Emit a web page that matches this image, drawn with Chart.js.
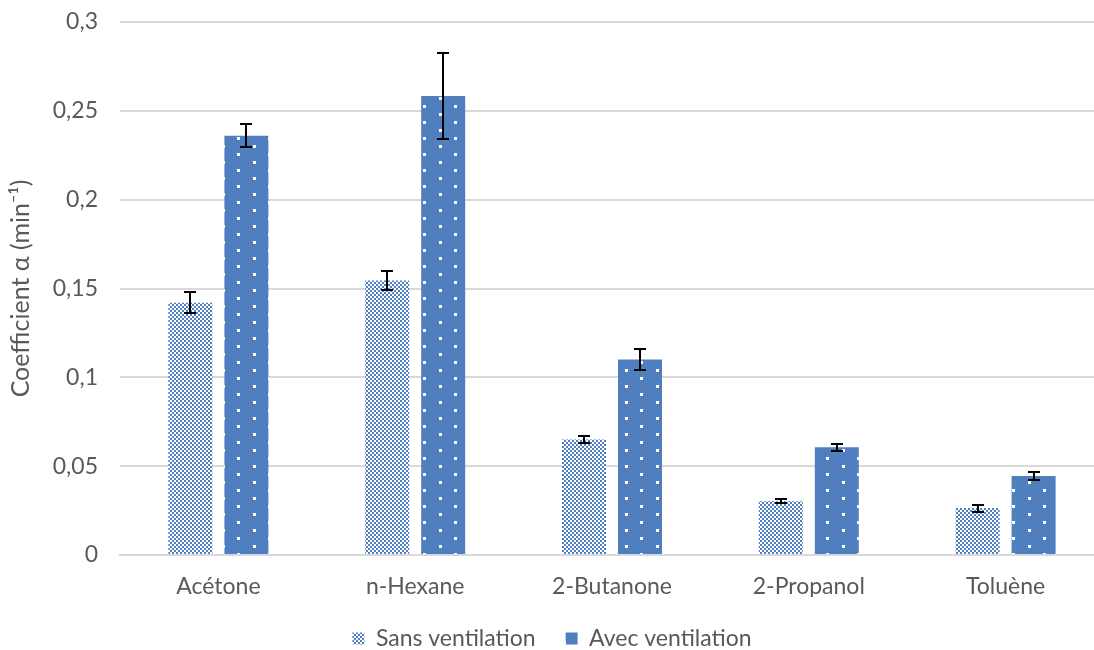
<!DOCTYPE html>
<html>
<head>
<meta charset="utf-8">
<script src="https://cdn.jsdelivr.net/npm/chart.js@4"></script>
<style>
  html, body { margin: 0; padding: 0; background: #fff; overflow: hidden; }
  #wrap { width: 1110px; height: 650px; }
</style>
</head>
<body>
<div id="wrap"><canvas id="coefChart" width="1110" height="650"></canvas></div>
<script>
// Données
const categories = ['Acétone', 'n-Hexane', '2-Butanone', '2-Propanol', 'Toluène'];
const sansVentilation = [0.142, 0.1545, 0.065, 0.0303, 0.0264];
const sansErreur = [0.006, 0.0056, 0.002, 0.001, 0.002];
const avecVentilation = [0.236, 0.2584, 0.110, 0.0607, 0.0444];
const avecErreur = [0.0065, 0.024, 0.006, 0.002, 0.0022];
const yTickLabels = ['0', '0,05', '0,1', '0,15', '0,2', '0,25', '0,3'];

const BLUE = '#4f7fbf';
const FONT = "Lato, 'Open Sans', sans-serif";

// Motif damier (Sans ventilation)
function checkerPattern() {
    const c = document.createElement('canvas');
    c.width = 4; c.height = 4;
    const g = c.getContext('2d');
    g.fillStyle = '#ffffff';
    g.fillRect(0, 0, 4, 4);
    g.fillStyle = BLUE;
    g.fillRect(0, 0, 2, 2);
    g.fillRect(2, 2, 2, 2);
    return g.createPattern(c, 'repeat');
}

// Motif points blancs (Avec ventilation)
function dotPattern() {
    const c = document.createElement('canvas');
    c.width = 31; c.height = 16;
    const g = c.getContext('2d');
    g.fillStyle = BLUE;
    g.fillRect(0, 0, 31, 16);
    g.fillStyle = '#ffffff';
    g.fillRect(5, 1, 3, 3);
    g.fillRect(20, 9, 3, 3);
    return g.createPattern(c, 'repeat');
}

// Barres d'erreur dessinées à partir de l'échelle
const errorBars = {
    id: 'errorBars',
    afterDatasetsDraw(chart) {
        const ctx = chart.ctx;
        const yScale = chart.scales.y;
        const errs = [sansErreur, avecErreur];
        ctx.save();
        ctx.strokeStyle = '#000';
        ctx.lineWidth = 2;
        chart.data.datasets.forEach(function(ds, di) {
            const meta = chart.getDatasetMeta(di);
            meta.data.forEach(function(bar, i) {
                const v = ds.data[i];
                const e = errs[di][i];
                const yTop = Math.round(yScale.getPixelForValue(v + e));
                const yBot = Math.round(yScale.getPixelForValue(v - e));
                const x = Math.round(bar.x);
                ctx.beginPath();
                ctx.moveTo(x, yTop); ctx.lineTo(x, yBot);
                ctx.moveTo(x - 6, yTop); ctx.lineTo(x + 6, yTop);
                ctx.moveTo(x - 6, yBot); ctx.lineTo(x + 6, yBot);
                ctx.stroke();
            });
        });
        ctx.restore();
    }
};

const ctx = document.getElementById('coefChart').getContext('2d');
const coefChart = new Chart(ctx, {
    type: 'bar',
    data: {
        labels: categories,
        datasets: [
            {
                label: 'Sans ventilation',
                data: sansVentilation,
                backgroundColor: checkerPattern(),
                categoryPercentage: 0.569,
                barPercentage: 0.786
            },
            {
                label: 'Avec ventilation',
                data: avecVentilation,
                backgroundColor: dotPattern(),
                categoryPercentage: 0.569,
                barPercentage: 0.786
            }
        ]
    },
    options: {
        responsive: false,
        animation: false,
        layout: { padding: { top: 22, right: 6, left: 0, bottom: -10 } },
        plugins: {
            tooltip: { enabled: false },
            legend: {
                position: 'bottom',
                labels: {
                    boxWidth: 12,
                    boxHeight: 12,
                    padding: 30,
                    color: '#595959',
                    font: { family: FONT, size: 23 }
                }
            }
        },
        scales: {
            x: {
                grid: { display: false, drawTicks: false },
                border: { color: '#d9d9d9', width: 2 },
                ticks: { color: '#595959', padding: 18, font: { family: FONT, size: 23 } },
                afterFit(scale) { scale.height = 42; }
            },
            y: {
                min: 0,
                max: 0.3,
                ticks: {
                    stepSize: 0.05,
                    color: '#595959',
                    padding: 22,
                    font: { family: FONT, size: 23 },
                    callback: function(value, index) { return yTickLabels[index]; }
                },
                grid: { color: '#d9d9d9', lineWidth: 2, drawTicks: false },
                border: { display: false },
                title: {
                    display: true,
                    text: 'Coefficient α (min⁻¹)',
                    color: '#595959',
                    font: { family: FONT, size: 25 },
                    padding: { top: 6, bottom: 8 }
                },
                afterFit(scale) {
                    scale.width = 120;
                    scale.paddingTop = 0;
                    scale.paddingBottom = 0;
                }
            }
        }
    },
    plugins: [errorBars]
});
</script>
</body>
</html>
